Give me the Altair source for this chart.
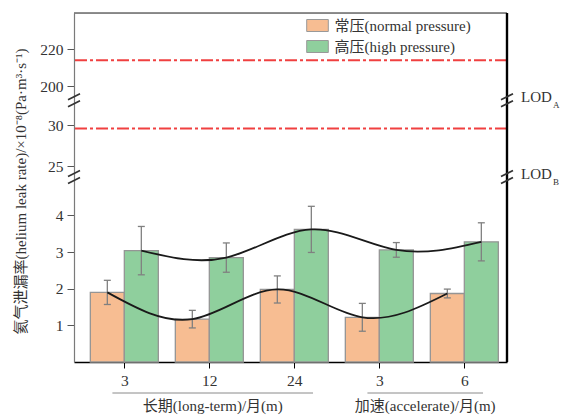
import altair as alt
import pandas as pd

# ---------------- data ----------------
tick_labels = ["3", "12", "24", "3", "6"]
series_names = ["常压(normal pressure)", "高压(high pressure)"]
normal_mean = [1.90, 1.17, 1.98, 1.22, 1.87]
normal_sd = [0.33, 0.24, 0.37, 0.38, 0.12]
high_mean = [3.04, 2.85, 3.62, 3.06, 3.28]
high_sd = [0.66, 0.40, 0.63, 0.20, 0.52]
group_names = ["长期(long-term)/月(m)", "加速(accelerate)/月(m)"]
group_first = [0, 3]
group_last = [2, 4]
lod_values = [214, 29.6]
y_tick_values = [1, 2, 3, 4, 25, 30, 200, 220]

# ---------------- layout / style ----------------
W, H = 433, 349
FONT = "Liberation Serif, Noto Sans CJK SC"
TXT = "#333333"
colors = ["#F7BD92", "#8FCF9D"]
xdom = [-0.592, 4.502]
# broken axis: piecewise linear scale (lower, middle, upper segments)
ydom = [0, 5.05, 23.66, 33.05, 192.4, 239.5]
yrng = [H, 164, 164, 87.3, 87.3, 0]
break_lo = [5.05, 33.05]   # where the axis breaks (lower side of each gap)
break_label = ["B", "A"]

xs = alt.Scale(domain=xdom, nice=False, zero=False)
ys = alt.Scale(domain=ydom, range=yrng, nice=False, zero=False)

YTITLE = "氦气泄漏率(helium leak rate)/×10⁻⁸(Pa·m³·s⁻¹)"
yax = alt.Axis(values=y_tick_values, grid=False, domainColor="#7a7a7a",
               domainWidth=1.2, tickColor="#555555", tickSize=7,
               labelPadding=4, labelFontSize=15.5, labelColor=TXT, labelFont=FONT,
               titleFont=FONT, titleFontSize=15, titleColor=TXT,
               titleFontWeight="normal", titleAngle=270, titleX=-54, titleY=178,
               titleAlign="center", titleBaseline="middle")
label_expr = "[" + ",".join("'%s'" % t for t in tick_labels) + "][datum.value]"
xax = alt.Axis(values=list(range(len(tick_labels))), labelExpr=label_expr,
               grid=False, domainColor="#000000", domainWidth=1.5,
               tickColor="#000000", tickSize=6, labelPadding=5,
               labelFontSize=15.5, labelColor=TXT, labelFont=FONT)


def X(f):
    return alt.X(f, scale=xs, axis=xax, title=None)


def Y(f):
    return alt.Y(f, scale=ys, axis=yax, title=YTITLE)


rows = []
for i in range(len(tick_labels)):
    rows.append({"idx": i, "series": series_names[0], "s": 0,
                 "mean": normal_mean[i], "sd": normal_sd[i]})
    rows.append({"idx": i, "series": series_names[1], "s": 1,
                 "mean": high_mean[i], "sd": high_sd[i]})
df = pd.DataFrame(rows)

base = alt.Chart(df).transform_calculate(
    x0="datum.idx - 0.4 + 0.4 * datum.s",
    x1="datum.idx + 0.4 * datum.s",
    xc="datum.idx - 0.2 + 0.4 * datum.s",
    lo="datum.mean - datum.sd",
    hi="datum.mean + datum.sd",
)

bars = base.mark_bar(stroke="#959595", strokeWidth=1.3).encode(
    x=X("x0:Q"), x2="x1:Q",
    y=Y("mean:Q"), y2=alt.datum(0),
    color=alt.Color("series:N",
                    scale=alt.Scale(domain=series_names, range=colors),
                    legend=alt.Legend(title=None, orient="none", legendX=236, legendY=5,
                                      symbolType="M-1.8,-1H1.8V1H-1.8Z", symbolSize=144,
                                      symbolStrokeColor="#999999", symbolStrokeWidth=1,
                                      symbolOpacity=1, labelFont=FONT, labelFontSize=15,
                                      labelColor=TXT, labelOffset=9.5, rowPadding=4,
                                      padding=0)),
)

err = base.mark_rule(color="#808080", strokeWidth=1.3).encode(
    x=X("xc:Q"), y=Y("lo:Q"), y2="hi:Q")
cap_hi = base.mark_rule(color="#808080", strokeWidth=1.3, xOffset=-3.5, x2Offset=3.5).encode(
    x=X("xc:Q"), x2="xc:Q", y=Y("hi:Q"))
cap_lo = base.mark_rule(color="#808080", strokeWidth=1.3, xOffset=-3.5, x2Offset=3.5).encode(
    x=X("xc:Q"), x2="xc:Q", y=Y("lo:Q"))

curves = base.mark_line(color="#1a1a1a", strokeWidth=1.8, interpolate="natural").encode(
    x=X("xc:Q"), y=Y("mean:Q"), detail="series:N")

lod_df = pd.DataFrame({"v": lod_values})
lod_lines = alt.Chart(lod_df).mark_rule(color="#F04040", strokeWidth=2,
                                        strokeDash=[12, 3, 3, 3]).encode(y=Y("v:Q"))

# frame (top and right borders)
frame_top = alt.Chart(lod_df).mark_rule(color="#6a6a6a", strokeWidth=1.2).encode(
    x=alt.value(0), x2=alt.value(W), y=alt.value(0))
frame_right = alt.Chart(lod_df).mark_rule(color="#000000", strokeWidth=2.2).encode(
    x=alt.value(W), y=alt.value(0), y2=alt.value(H))

# axis break marks on both sides
brk_rows = []
for b in break_lo:
    for side in xdom:
        brk_rows.append({"b": b, "side": side})
brk_df = pd.DataFrame(brk_rows)
slashes = []
for dy in (-3.5, 3.5):
    slashes.append(alt.Chart(brk_df).mark_rule(
        color="#333333", strokeWidth=1.8,
        xOffset=-6, x2Offset=6, yOffset=dy + 3, y2Offset=dy - 3).encode(
        x=X("side:Q"), x2="side:Q", y=Y("b:Q"), y2="b:Q"))

lab_df = pd.DataFrame({"b": break_lo, "sub": break_label})
lod_text = alt.Chart(lab_df).mark_text(font=FONT, fontSize=15, color=TXT, align="left",
                                       baseline="alphabetic", dx=14, dy=2).encode(
    x=alt.value(W), y=Y("b:Q"), text=alt.value("LOD"))
lod_sub = alt.Chart(lab_df).mark_text(font=FONT, fontSize=9, color=TXT, align="left",
                                      baseline="alphabetic", dx=46, dy=8).encode(
    x=alt.value(W), y=Y("b:Q"), text="sub:N")

# group underlines and labels below the x axis
grp_df = pd.DataFrame({"name": group_names, "first": group_first, "last": group_last})
grp_base = alt.Chart(grp_df).transform_calculate(
    gs="datum.first - 0.14", ge="datum.last + 0.22", gm="(datum.first + datum.last) / 2 + 0.04")
grp_lines = grp_base.mark_rule(color="#8a8a8a", strokeWidth=1).encode(
    x=X("gs:Q"), x2="ge:Q", y=alt.value(H + 31))
grp_text = grp_base.mark_text(font=FONT, fontSize=15, color=TXT, baseline="middle").encode(
    x=X("gm:Q"), y=alt.value(H + 44), text="name:N")

chart = alt.layer(
    lod_lines, bars, err, cap_hi, cap_lo, curves, frame_top, frame_right,
    *slashes, lod_text, lod_sub, grp_lines, grp_text
).properties(
    width=W, height=H, autosize="none",
    padding={"left": 74, "top": 13, "right": 561 - 74 - W, "bottom": 415 - 13 - H},
).configure_view(stroke=None).configure(background="white").configure_axis(
    labelFont=FONT, titleFont=FONT, labelFontSize=15.5, labelColor=TXT
)

chart.save("out.html", embed_options={"renderer": "svg", "actions": False})
